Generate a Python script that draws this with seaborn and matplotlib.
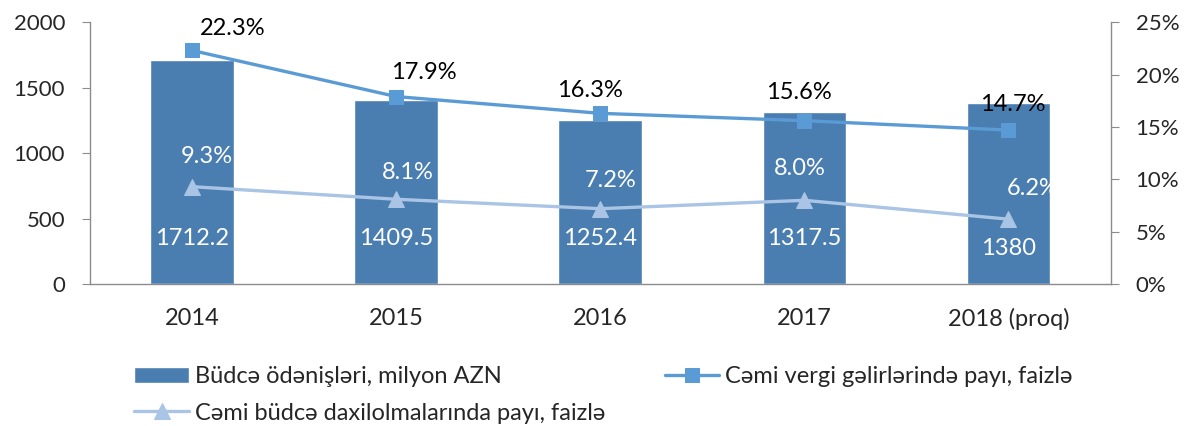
import numpy as np
import pandas as pd
import matplotlib
matplotlib.use("Agg")
import matplotlib.pyplot as plt
import seaborn as sns

years = ["2014", "2015", "2016", "2017", "2018 (proq)"]
payments = [1712.2, 1409.5, 1252.4, 1317.5, 1380]
tax_share = [22.3, 17.9, 16.3, 15.6, 14.7]
budget_share = [9.3, 8.1, 7.2, 8.0, 6.2]

bar_name = "Büdcə ödənişləri, milyon AZN"
tax_name = "Cəmi vergi gəlirlərində payı, faizlə"
budget_name = "Cəmi büdcə daxilolmalarında payı, faizlə"

bar_color = "#4A7EB0"
tax_color = "#5B9BD5"
budget_color = "#A9C4E4"
spine_color = "#8C8C8C"

sns.set_style("white")
plt.rcParams["font.family"] = ["Lato", "DejaVu Sans"]
plt.rcParams["font.size"] = 17

df = pd.DataFrame({"year": years, "payments": payments,
                   "tax": tax_share, "budget": budget_share})

fig = plt.figure(figsize=(11.89, 4.26), dpi=100)
ax = fig.add_axes([0.0757, 0.333, 0.8583, 0.615])
sns.barplot(data=df, x="year", y="payments", color=bar_color, width=0.41,
            saturation=1, ax=ax, label=bar_name)
if ax.get_legend() is not None:
    ax.get_legend().remove()
ax.set_xlim(-0.5, 4.5)
ax.set_ylim(0, 2000)
ax.set_yticks([0, 500, 1000, 1500, 2000])
ax.set_xlabel("")
ax.set_ylabel("")

ax2 = ax.twinx()
sns.lineplot(data=df, x="year", y="tax", color=tax_color, marker="s",
             markersize=10, markeredgecolor=tax_color, linewidth=2.4,
             ax=ax2, label=tax_name, legend=False)
sns.lineplot(data=df, x="year", y="budget", color=budget_color, marker="^",
             markersize=11, markeredgecolor=budget_color, linewidth=2.4,
             ax=ax2, label=budget_name, legend=False)
ax2.set_ylim(0, 25)
ax2.set_yticks([0, 5, 10, 15, 20, 25])
ax2.set_yticklabels([f"{v}%" for v in [0, 5, 10, 15, 20, 25]])
ax2.set_ylabel("")

# spines and ticks
for a in (ax, ax2):
    a.spines["top"].set_visible(False)
    for side in ["left", "right", "bottom"]:
        a.spines[side].set_color(spine_color)
        a.spines[side].set_linewidth(1)
ax.spines["right"].set_visible(False)
ax2.spines["left"].set_visible(False)
ax2.spines["bottom"].set_visible(False)
ax.tick_params(axis="y", length=6, color=spine_color, pad=12, labelsize=16)
ax2.tick_params(axis="y", length=6, color=spine_color, pad=12, labelsize=16)
ax.set_xticks(range(len(years)))
ax.set_xticklabels(years)
ax.set_xticks(np.arange(-0.5, 5, 1), minor=True)
ax.tick_params(axis="x", which="major", length=0, pad=17, labelsize=17)
ax.tick_params(axis="x", which="minor", length=6, color=spine_color)

px = 72 / 100.0
# bar value labels
bar_label_y = [350, 350, 350, 350, 275]
for i, v in enumerate(payments):
    ax.text(i, bar_label_y[i], f"{v:g}", color="white", ha="center",
            va="center", fontsize=17)

tax_off = [(41, 22), (28, 24), (-10, 23), (-5, 28), (4, 26)]
for i, v in enumerate(tax_share):
    ax2.annotate(f"{v:.1f}%", (i, v), xytext=(tax_off[i][0] * px, tax_off[i][1] * px),
                 textcoords="offset points", ha="center", va="center",
                 color="black", fontsize=17)

budget_off = [(15, 30), (12, 27), (10, 28), (-5, 32), (24, 31)]
for i, v in enumerate(budget_share):
    ax2.annotate(f"{v:.1f}%", (i, v), xytext=(budget_off[i][0] * px, budget_off[i][1] * px),
                 textcoords="offset points", ha="center", va="center",
                 color="white", fontsize=17)

h1, l1 = ax.get_legend_handles_labels()
h2, l2 = ax2.get_legend_handles_labels()
handles = [h1[0], h2[1], h2[0]]
labels = [bar_name, budget_name, tax_name]
fig.legend(handles, labels, loc="upper left", bbox_to_anchor=(0.113, 0.14),
           ncol=2, frameon=False, fontsize=17, handlelength=2.3,
           handletextpad=0.25, columnspacing=2.55, labelspacing=0.65,
           borderaxespad=0, borderpad=0)

fig.savefig("out.png", dpi=100)
